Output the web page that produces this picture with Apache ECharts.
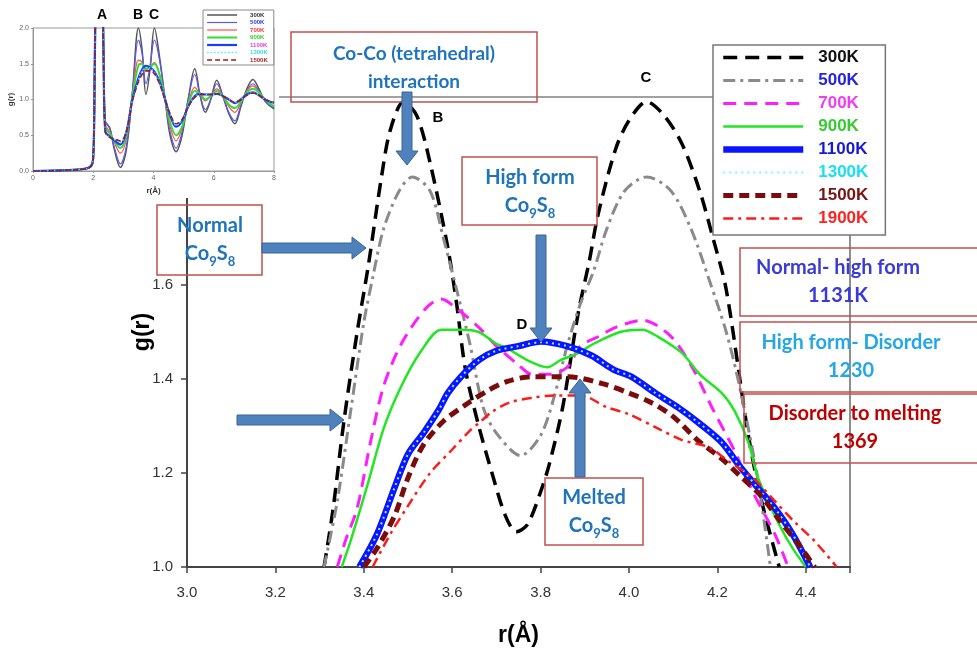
<!DOCTYPE html>
<html>
<head>
<meta charset="utf-8">
<script src="https://cdn.jsdelivr.net/npm/echarts@6/dist/echarts.min.js"></script>
<style>
html, body { margin: 0; padding: 0; background: #fff; }
#chart { width: 977px; height: 652px; }
</style>
</head>
<body>
<div id="chart"></div>
<script>
// temperatures, same order in both plots
var temps = ['300K', '500K', '700K', '900K', '1100K', '1300K', '1500K', '1900K'];

// main plot: [r, g(r)]
var g300K = [[3.31,1.0],[3.33,1.12],[3.355,1.31],[3.385,1.50],[3.41,1.64],[3.44,1.83],[3.46,1.93],[3.49,1.99],[3.52,1.96],[3.55,1.86],[3.59,1.68],[3.61,1.56],[3.63,1.42],[3.66,1.30],[3.69,1.20],[3.72,1.11],[3.745,1.075],[3.77,1.09],[3.80,1.16],[3.82,1.22],[3.85,1.34],[3.885,1.54],[3.91,1.65],[3.93,1.75],[3.97,1.89],[4.00,1.95],[4.04,1.99],[4.08,1.96],[4.12,1.90],[4.16,1.80],[4.19,1.70],[4.22,1.59],[4.27,1.28],[4.30,1.14],[4.34,1.0]];
var g500K = [[3.31,1.0],[3.34,1.14],[3.37,1.33],[3.40,1.52],[3.42,1.615],[3.445,1.72],[3.48,1.80],[3.51,1.83],[3.55,1.80],[3.58,1.70],[3.61,1.59],[3.64,1.475],[3.67,1.34],[3.70,1.285],[3.755,1.237],[3.80,1.28],[3.83,1.36],[3.86,1.47],[3.89,1.56],[3.92,1.63],[3.95,1.72],[3.99,1.80],[4.04,1.83],[4.095,1.80],[4.14,1.72],[4.18,1.615],[4.22,1.50],[4.25,1.385],[4.29,1.195],[4.32,1.0]];
var g700K = [[3.34,1.0],[3.36,1.06],[3.385,1.125],[3.415,1.265],[3.445,1.385],[3.485,1.475],[3.54,1.55],[3.575,1.57],[3.61,1.55],[3.66,1.51],[3.70,1.47],[3.75,1.43],[3.78,1.41],[3.82,1.41],[3.86,1.425],[3.89,1.47],[3.93,1.49],[3.97,1.51],[4.03,1.525],[4.09,1.495],[4.14,1.43],[4.19,1.335],[4.24,1.245],[4.28,1.16],[4.33,1.07],[4.36,1.0]];
var g900K = [[3.35,1.0],[3.37,1.055],[3.41,1.18],[3.445,1.295],[3.485,1.385],[3.53,1.46],[3.575,1.505],[3.62,1.505],[3.66,1.50],[3.70,1.475],[3.725,1.465],[3.77,1.44],[3.815,1.425],[3.845,1.44],[3.885,1.455],[3.92,1.475],[3.98,1.50],[4.03,1.505],[4.065,1.49],[4.12,1.455],[4.16,1.41],[4.21,1.37],[4.24,1.33],[4.27,1.265],[4.29,1.195],[4.31,1.15],[4.34,1.09],[4.37,1.04],[4.40,1.0]];
var g1100K = [[3.39,1.0],[3.43,1.07],[3.47,1.17],[3.50,1.24],[3.535,1.285],[3.57,1.335],[3.59,1.37],[3.62,1.405],[3.66,1.44],[3.70,1.46],[3.75,1.47],[3.80,1.48],[3.86,1.47],[3.915,1.45],[3.965,1.42],[4.005,1.405],[4.06,1.37],[4.11,1.34],[4.16,1.305],[4.21,1.265],[4.25,1.215],[4.29,1.17],[4.33,1.125],[4.37,1.07],[4.41,1.0]];
var g1300K = [[3.39,1.0],[3.43,1.07],[3.47,1.17],[3.50,1.24],[3.535,1.285],[3.57,1.335],[3.59,1.37],[3.62,1.405],[3.66,1.44],[3.70,1.46],[3.75,1.47],[3.80,1.478],[3.86,1.47],[3.915,1.45],[3.965,1.42],[4.005,1.405],[4.06,1.37],[4.11,1.34],[4.16,1.305],[4.21,1.265],[4.25,1.215],[4.29,1.17],[4.33,1.125],[4.37,1.07],[4.41,1.0]];
var g1500K = [[3.40,1.0],[3.43,1.04],[3.47,1.11],[3.50,1.19],[3.535,1.26],[3.58,1.31],[3.63,1.345],[3.68,1.375],[3.725,1.395],[3.78,1.405],[3.86,1.405],[3.94,1.39],[4.00,1.37],[4.05,1.35],[4.10,1.32],[4.155,1.27],[4.21,1.23],[4.25,1.195],[4.30,1.15],[4.34,1.10],[4.39,1.04],[4.42,1.0]];
var g1900K = [[3.42,1.0],[3.46,1.07],[3.50,1.13],[3.55,1.20],[3.60,1.25],[3.64,1.29],[3.665,1.31],[3.69,1.33],[3.73,1.35],[3.78,1.36],[3.83,1.365],[3.89,1.365],[3.95,1.34],[4.00,1.325],[4.065,1.295],[4.12,1.27],[4.18,1.255],[4.225,1.225],[4.28,1.19],[4.33,1.14],[4.37,1.10],[4.42,1.055],[4.47,1.0]];

// inset: full g(r) 0..8 A
var insetR = [0,1.5,1.9,2.0,2.05,2.1,2.2,2.3,2.35,2.4,2.55,2.7,2.9,3.1,3.3,3.5,3.62,3.75,3.88,4.03,4.2,4.4,4.55,4.75,4.95,5.15,5.37,5.55,5.72,5.9,6.1,6.3,6.5,6.7,6.9,7.1,7.3,7.5,7.7,8.0];
var inset300K = [0,0.02,0.05,0.15,1.5,3,5,3,1.5,0.7,0.6,0.3,0.05,0.3,1.1,2.0,1.7,1.07,1.4,2.0,1.6,0.95,0.5,0.27,0.5,1.0,1.43,1.05,0.82,1.0,1.27,1.05,0.8,0.66,0.9,1.15,1.28,1.15,0.98,0.87];
var inset500K = [0,0.02,0.05,0.15,1.5,3,5,3,1.5,0.7,0.6,0.33,0.1,0.35,1.1,1.83,1.65,1.22,1.45,1.83,1.55,0.95,0.55,0.32,0.55,1.0,1.35,1.05,0.86,1.0,1.22,1.05,0.82,0.70,0.92,1.13,1.22,1.12,0.98,0.88];
var inset700K = [0,0.02,0.06,0.18,1.5,3,5,3,1.4,0.65,0.55,0.4,0.25,0.45,1.05,1.55,1.52,1.42,1.45,1.52,1.35,0.95,0.62,0.42,0.6,0.95,1.17,1.07,0.98,1.05,1.15,1.05,0.9,0.82,0.95,1.12,1.19,1.1,1.0,0.9];
var inset900K = [0,0.02,0.06,0.18,1.5,3,5,3,1.4,0.62,0.52,0.42,0.32,0.5,1.05,1.48,1.5,1.43,1.45,1.5,1.35,0.98,0.68,0.5,0.62,0.93,1.12,1.08,1.0,1.05,1.12,1.05,0.93,0.88,0.97,1.1,1.15,1.1,1.0,0.9];
var inset1100K = [0,0.02,0.06,0.2,1.5,3,5,3,1.3,0.55,0.48,0.43,0.37,0.55,1.0,1.30,1.42,1.47,1.45,1.39,1.25,0.98,0.78,0.62,0.7,0.9,1.05,1.08,1.07,1.07,1.08,1.05,1.0,0.95,1.0,1.07,1.1,1.06,1.0,0.95];
var inset1300K = [0,0.02,0.06,0.2,1.5,3,5,3,1.3,0.55,0.47,0.44,0.40,0.55,0.99,1.28,1.40,1.45,1.44,1.38,1.24,0.98,0.79,0.64,0.71,0.9,1.04,1.08,1.07,1.07,1.08,1.05,1.0,0.96,1.0,1.06,1.1,1.06,1.0,0.95];
var inset1500K = [0,0.02,0.06,0.2,1.5,3,5,3,1.3,0.55,0.47,0.45,0.42,0.55,0.98,1.25,1.35,1.40,1.40,1.36,1.22,0.98,0.8,0.66,0.72,0.9,1.03,1.07,1.07,1.07,1.08,1.05,1.0,0.96,1.0,1.06,1.09,1.06,1.0,0.96];

var mainData = [g300K, g500K, g700K, g900K, g1100K, g1300K, g1500K, g1900K];
var insetData = [inset300K, inset500K, inset700K, inset900K, inset1100K, inset1300K, inset1500K];

var mainStyles = [
    { color: '#000000', width: 3.5, type: [14, 8] },
    { color: '#8a8a8a', width: 3, type: [12, 5, 3, 5] },
    { color: '#ff1cff', width: 3, type: [13, 8] },
    { color: '#22e622', width: 2.5, type: 'solid' },
    { color: '#0a14ff', width: 6.5, type: 'solid' },
    { color: '#8ef0ff', width: 2, type: [2, 4] },
    { color: '#7a0c0c', width: 5, type: [10, 6] },
    { color: '#ff1a1a', width: 2.5, type: [10, 5, 3, 5] }
];
var mainTextColors = ['#111', '#2424e0', '#f03cf0', '#33cc33', '#1818d8', '#19e0f0', '#7a1414', '#ff2020'];

var insetStyles = [
    { color: '#555555', width: 1.5, type: 'solid' },
    { color: '#5a5ae6', width: 1.2, type: 'solid' },
    { color: '#ff5050', width: 1.2, type: 'solid' },
    { color: '#33dd33', width: 2, type: 'solid' },
    { color: '#1a3cff', width: 2.2, type: 'solid' },
    { color: '#4fe6ff', width: 1.3, type: [1.5, 2] },
    { color: '#a01818', width: 1.6, type: [5, 3] }
];
var insetTextColors = ['#333', '#3333ee', '#ff3333', '#33cc33', '#e040e0', '#33ddee', '#aa2222'];

var blue = '#1f74bd';
var boxRed = '#c0504d';
var arrowFill = '#4f81bd';
var arrowEdge = '#3a6496';

var series = [];
for (var i = 0; i < temps.length; i++) {
    series.push({
        name: temps[i],
        type: 'line',
        xAxisIndex: 0,
        yAxisIndex: 0,
        data: mainData[i],
        symbol: 'none',
        smooth: 0.3,
        color: mainStyles[i].color,
        lineStyle: mainStyles[i]
    });
}
for (var j = 0; j < insetData.length; j++) {
    var pts = [];
    for (var k = 0; k < insetR.length; k++) {
        pts.push([insetR[k], insetData[j][k]]);
    }
    series.push({
        name: 'inset ' + temps[j],
        type: 'line',
        xAxisIndex: 1,
        yAxisIndex: 1,
        data: pts,
        symbol: 'none',
        smooth: 0.35,
        z: 7,
        color: insetStyles[j].color,
        lineStyle: insetStyles[j]
    });
}

function box(x, y, w, h) {
    return { type: 'rect', z: 10, shape: { x: x, y: y, width: w, height: h },
        style: { fill: null, stroke: boxRed, lineWidth: 1.5 } };
}
function note(x, y, text, color, size) {
    return { type: 'text', z: 11, x: x, y: y,
        style: {
            text: text, fill: color, align: 'center', verticalAlign: 'middle',
            font: 'bold ' + (size || 20) + 'px Lato, "Open Sans", sans-serif',
            lineHeight: 28,
            rich: { s: { fill: color, fontSize: 13, fontWeight: 'bold', fontFamily: 'Lato', verticalAlign: 'bottom', lineHeight: 14 } }
        } };
}
function letter(x, y, text, size) {
    return { type: 'text', z: 11, x: x, y: y,
        style: { text: text, fill: '#000', align: 'center', verticalAlign: 'middle',
            font: 'bold ' + (size || 15) + 'px "Liberation Sans", Arial, sans-serif' } };
}
function arrowRight(x0, x1, y) {
    return { type: 'polygon', z: 10, shape: { points: [[x0, y - 5], [x1 - 14, y - 5], [x1 - 14, y - 11], [x1, y], [x1 - 14, y + 11], [x1 - 14, y + 5], [x0, y + 5]] },
        style: { fill: arrowFill, stroke: arrowEdge, lineWidth: 1 } };
}
function arrowDown(x, y0, y1) {
    return { type: 'polygon', z: 10, shape: { points: [[x - 5, y0], [x + 5, y0], [x + 5, y1 - 14], [x + 11, y1 - 14], [x, y1], [x - 11, y1 - 14], [x - 5, y1 - 14]] },
        style: { fill: arrowFill, stroke: arrowEdge, lineWidth: 1 } };
}
function arrowUp(x, y0, y1) {
    return { type: 'polygon', z: 10, shape: { points: [[x - 5, y0], [x + 5, y0], [x + 5, y1 + 14], [x + 11, y1 + 14], [x, y1], [x - 11, y1 + 14], [x - 5, y1 + 14]] },
        style: { fill: arrowFill, stroke: arrowEdge, lineWidth: 1 } };
}

var graphics = [
    // white area that holds the inset
    { type: 'rect', z: 5, shape: { x: 0, y: 0, width: 279, height: 198 }, style: { fill: '#fff' } },
    letter(102, 15, 'A', 14), letter(138, 15, 'B', 14), letter(154, 15, 'C', 14),
    letter(438, 118, 'B'), letter(646, 78, 'C'), letter(522, 325, 'D'),
    box(291, 32, 246, 70), note(414, 68, 'Co-Co (tetrahedral)\ninteraction', blue, 19),
    box(157, 205, 105, 70), note(210, 240, 'Normal\nCo{s|9}S{s|8}', blue),
    box(462, 157, 135, 68), note(530, 192, 'High form\nCo{s|9}S{s|8}', blue),
    box(545, 478, 98, 67), note(594, 512, 'Melted\nCo{s|9}S{s|8}', blue),
    box(740, 248, 260, 68), note(838, 282, 'Normal- high form\n1131K', '#3a3ad8'),
    box(740, 322, 260, 70), note(851, 357, 'High form- Disorder\n1230', '#22a8e6'),
    box(744, 394, 260, 69), note(855, 428, 'Disorder to melting\n1369', '#c00000'),
    arrowDown(407, 92, 165),
    arrowRight(262, 366, 248),
    arrowRight(237, 344, 420),
    arrowDown(541, 235, 342),
    arrowUp(580, 477, 379)
];

var chart = echarts.init(document.getElementById('chart'));
chart.setOption({
    animation: false,
    backgroundColor: '#fff',
    grid: [
        { left: 187, top: 97, right: 127, bottom: 79, show: true, borderColor: '#444', borderWidth: 1.2, backgroundColor: 'transparent' },
        { left: 33, top: 28, width: 241, height: 143, show: true, borderColor: '#999', borderWidth: 1, backgroundColor: '#fff', z: 6 }
    ],
    xAxis: [{
        gridIndex: 0, type: 'value', min: 3.0, max: 4.5, interval: 0.2,
        name: 'r(Å)', nameLocation: 'middle', nameGap: 57,
        nameTextStyle: { fontSize: 23, fontWeight: 'bold', color: '#000', fontFamily: '"Liberation Sans", Arial' },
        axisLine: { lineStyle: { color: '#444', width: 2 } },
        axisTick: { inside: false, length: 6, lineStyle: { color: '#444', width: 1.5 } },
        axisLabel: { margin: 18, fontSize: 15, color: '#333', fontFamily: '"Liberation Sans", Arial',
            formatter: function (v) { return v > 4.45 ? '' : v.toFixed(1); } },
        splitLine: { show: false }
    }, {
        gridIndex: 1, type: 'value', min: 0, max: 8, interval: 2, z: 6,
        name: 'r(Å)', nameLocation: 'middle', nameGap: 16,
        nameTextStyle: { fontSize: 8, fontWeight: 'bold', color: '#333' },
        axisLine: { lineStyle: { color: '#999' } },
        axisTick: { length: 2, lineStyle: { color: '#999' } },
        axisLabel: { margin: 4, fontSize: 7, color: '#666' },
        splitLine: { show: false }
    }],
    yAxis: [{
        gridIndex: 0, type: 'value', min: 1.0, max: 2.0, interval: 0.2,
        name: 'g(r)', nameLocation: 'middle', nameGap: 33, nameMoveOverlap: false,
        nameTextStyle: { fontSize: 23, fontWeight: 'bold', color: '#000', fontFamily: '"Liberation Sans", Arial' },
        axisLine: { lineStyle: { color: '#444', width: 2 } },
        axisTick: { inside: false, length: 6, lineStyle: { color: '#444', width: 1.5 } },
        axisLabel: { margin: 14, fontSize: 15, color: '#333', fontFamily: '"Liberation Sans", Arial',
            formatter: function (v) { return v > 1.7 ? '' : v.toFixed(1); } },
        splitLine: { show: false }
    }, {
        gridIndex: 1, type: 'value', min: 0, max: 2, interval: 0.5, z: 6,
        name: 'g(r)', nameLocation: 'middle', nameGap: 18,
        nameTextStyle: { fontSize: 8, fontWeight: 'bold', color: '#333' },
        axisLine: { lineStyle: { color: '#999' } },
        axisTick: { length: 2, lineStyle: { color: '#999' } },
        axisLabel: { margin: 4, fontSize: 7, color: '#666', formatter: function (v) { return v.toFixed(1); } },
        splitLine: { show: false }
    }],
    legend: [{
        data: temps.map(function (t, i) { return { name: t, textStyle: { color: mainTextColors[i] } }; }),
        orient: 'vertical', left: 713, top: 45,
        itemWidth: 80, itemHeight: 14, itemGap: 6,
        padding: [4, 17, 8, 7],
        backgroundColor: '#fff', borderColor: '#777', borderWidth: 1.5,
        selectedMode: false, z: 8,
        itemStyle: { color: 'transparent', borderWidth: 0 },
        lineStyle: { width: 'inherit' },
        textStyle: { fontSize: 17, fontWeight: 'bold', fontFamily: '"Liberation Sans", Arial', padding: [0, 0, 0, 10] }
    }, {
        data: temps.slice(0, 7).map(function (t, i) { return { name: 'inset ' + t, textStyle: { color: insetTextColors[i] } }; }),
        formatter: function (name) { return name.replace('inset ', ''); },
        orient: 'vertical', left: 203, top: 10,
        itemWidth: 30, itemHeight: 5, itemGap: 1.5,
        padding: [2, 6, 2, 3],
        backgroundColor: '#fff', borderColor: '#888', borderWidth: 1,
        selectedMode: false, z: 8,
        itemStyle: { color: 'transparent', borderWidth: 0 },
        lineStyle: { width: 'inherit' },
        textStyle: { fontSize: 6, fontWeight: 'bold', padding: [0, 0, 0, 8] }
    }],
    series: series,
    graphic: graphics
});
</script>
</body>
</html>
